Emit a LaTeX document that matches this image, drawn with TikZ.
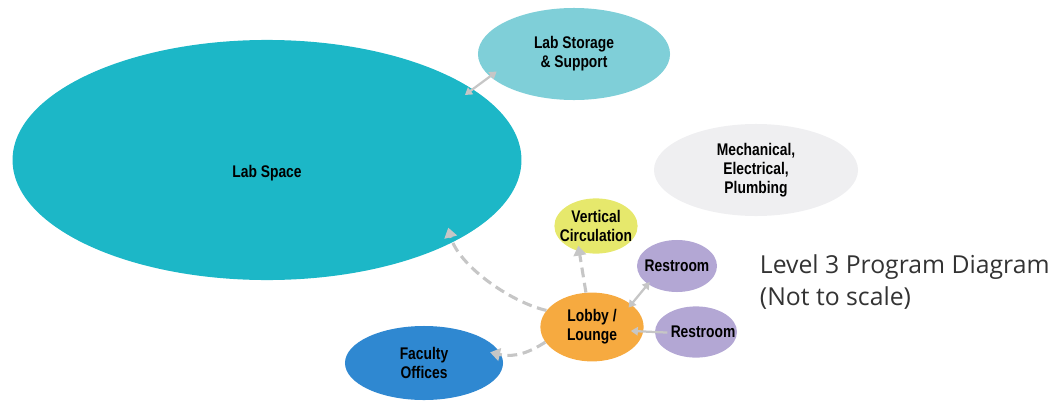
\documentclass[tikz,border=0pt]{standalone}
\usepackage{fontspec}
\setsansfont{Liberation Sans}[FakeStretch=0.82]
\newfontfamily\titlefont{Open Sans}
\usetikzlibrary{arrows.meta,positioning,shapes.geometric}

\definecolor{labcyan}{HTML}{1CB7C7}
\definecolor{storecyan}{HTML}{7FCFD8}
\definecolor{mepgray}{HTML}{EFEFF1}
\definecolor{vertyellow}{HTML}{E6E86C}
\definecolor{restpurple}{HTML}{B3A7D4}
\definecolor{lobbyorange}{HTML}{F6AA40}
\definecolor{facblue}{HTML}{2F88D1}
\definecolor{linkgray}{HTML}{C6C6C6}

\begin{document}
\begin{tikzpicture}[
    x=0.025cm, y=-0.025cm,
    space/.style={
        ellipse,
        inner sep=-20pt,
        align=center,
        font=\sffamily\bfseries\fontsize{12}{13.7}\selectfont
    },
    link/.style={
        draw=linkgray,
        line width=2.2pt,
        dash pattern=on 7pt off 4pt,
        -{Triangle[width=9pt,length=7pt]}
    },
    tie/.style={
        draw=linkgray,
        line width=1.6pt,
        {Triangle[width=6pt,length=5pt]}-{Triangle[width=6pt,length=5pt]}
    }
]
\useasboundingbox (0,0) rectangle (1063,401);

% Lab zone
\node[space, fill=labcyan, minimum width=12.72cm, minimum height=6cm,
    label={[space, yshift=-9pt]center:Lab Space}]
    at (267,160) (lab) {};
\node[space, fill=storecyan, minimum width=4.8cm, minimum height=2.3cm]
    at (574,54) (storage) {Lab Storage\\\& Support};

% Services
\node[space, fill=mepgray, minimum width=5.1cm, minimum height=2.3cm]
    at (756,170) (mep) {Mechanical,\\Electrical,\\Plumbing};

% Core around the lobby
\node[space, fill=lobbyorange, minimum width=2.58cm, minimum height=1.72cm]
    at (592,327) (lobby) {Lobby /\\Lounge};
\node[space, fill=vertyellow, minimum width=2.08cm, minimum height=1.38cm]
    at (596,226) (vert) {Vertical\\Circulation};
\node[space, fill=restpurple, minimum width=2cm, minimum height=1.3cm]
    at (677,266) (rest1) {Restroom};
\node[space, fill=restpurple, minimum width=2.05cm, minimum height=1.28cm]
    at (696,332) (rest2) {\hspace*{10pt}Restroom};
\node[space, fill=facblue, minimum width=3.95cm, minimum height=1.85cm]
    at (424,363) (faculty) {Faculty\\Offices};

% Caption
\node[anchor=base west, align=left, font=\titlefont\fontsize{17.6}{22.7}\selectfont, text=black!80]
    at (755,305) (caption) {Level 3 Program Diagram\\(Not to scale)};

% Links
\draw[tie, shorten <=-7pt, shorten >=-6pt] (lab.19) -- (storage.195);
\draw[link] (lobby.160) .. controls (510,302) and (458,265) .. ([yshift=12pt]lab.-25);
\draw[link] (lobby.100) -- ([yshift=4pt]vert.235);
\draw[link] (lobby.198) .. controls (530,352) and (515,358) .. ([xshift=-7pt]faculty.8);
\draw[tie, shorten <=-3pt, shorten >=-2pt] (lobby.30) -- (rest1.212);
\draw[tie, {Triangle[width=6pt,length=5pt]}-, shorten <=-9pt, shorten >=-9pt] (lobby.-5) -- (rest2.west);

\end{tikzpicture}
\end{document}
